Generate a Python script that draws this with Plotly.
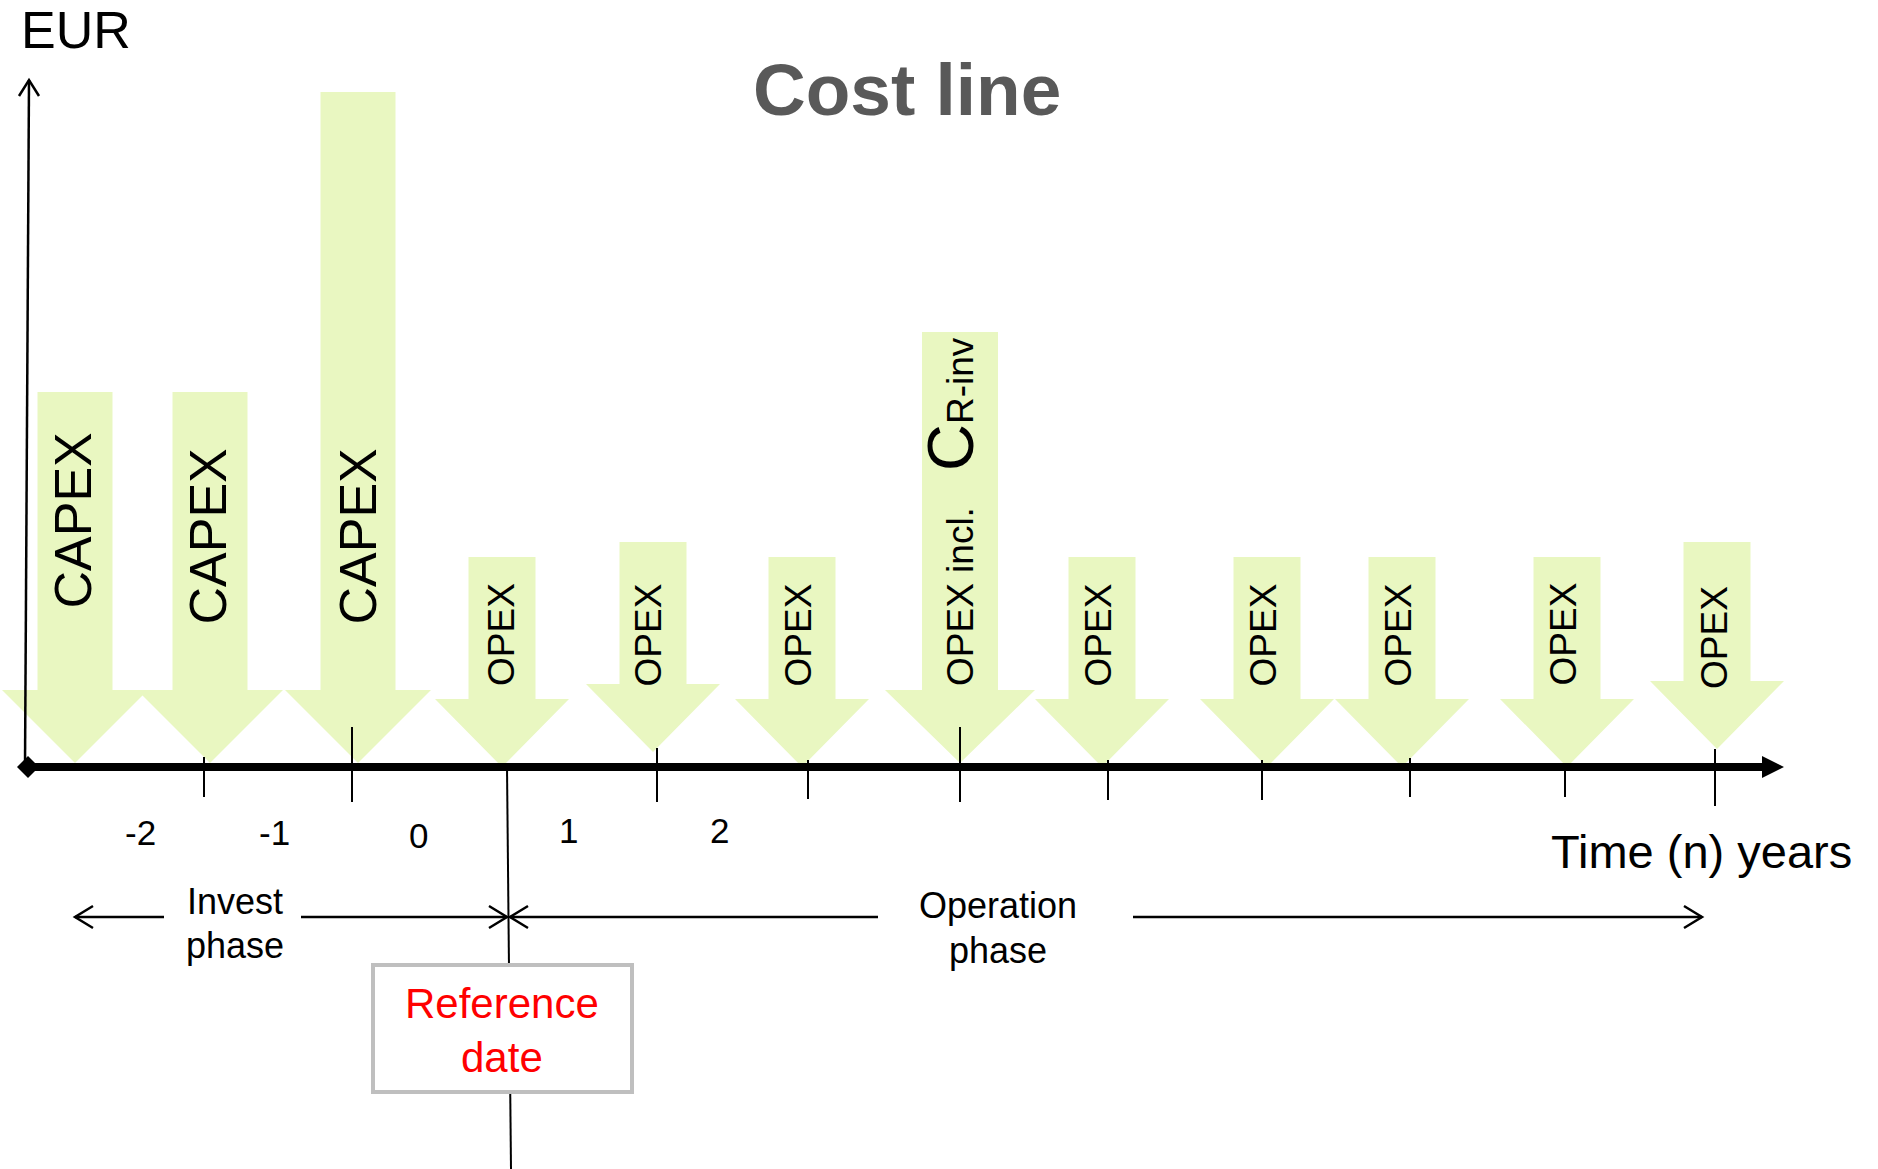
import plotly.graph_objects as go

# ---------------- data ----------------
W, H = 1878, 1169
BASE = 767                      # pixel row of the time axis -> value 0

arrow_labels = ["CAPEX", "CAPEX", "CAPEX", "OPEX", "OPEX", "OPEX",
                "OPEX incl.<span style='font-size:65px'>&nbsp; C</span>R-inv",
                "OPEX", "OPEX", "OPEX", "OPEX", "OPEX"]
arrow_kind = ["capex", "capex", "capex", "opex", "opex", "opex", "rinv",
              "opex", "opex", "opex", "opex", "opex"]
arrow_pos = [75, 210, 358, 502, 653, 802, 960, 1102, 1267, 1402, 1567, 1717]
arrow_value = [375, 375, 675, 210, 225, 210, 435, 210, 210, 210, 210, 225]
arrow_lift = [4, 4, 4, 0, 15, 0, 4, 0, 0, 0, 0, 18]
label_level = [246, 230, 230, 132, 132, 132, 255, 132, 132, 132, 133, 129]
label_pos = [72.5, 207.5, 357.5, 501, 647.5, 797.5, 950, 1097.5, 1262.5, 1397.5, 1562.5, 1714]

tick_pos = [204, 352, 657, 808, 960, 1108, 1262, 1410, 1565, 1715]
tick_up = [10, 40, 19, 7, 40, 7, 7, 9, 0, 18]
tick_down = [30, 35, 35, 32, 35, 33, 33, 30, 30, 39]

period_labels = ["-2", "-1", "0", "1", "2"]
period_pos = [140, 274, 418, 568, 719]
period_level = [-65, -65, -68, -63, -63]

ref_date_pos = 507

# ---------------- styles ----------------
FONT = "Liberation Sans, Arial, sans-serif"
GREEN = "#E9F7C1"
kind_style = {
    "capex": dict(sw=37.5, hw=73, hh=73, size=52),
    "opex": dict(sw=33.5, hw=67, hh=68, size=37),
    "rinv": dict(sw=38, hw=75, hh=73, size=37),
}

def v(ypx):
    return BASE - ypx

fig = go.Figure()

# arrows
for lab, kind, cx, top, lift in zip(arrow_labels, arrow_kind, arrow_pos, arrow_value, arrow_lift):
    s = kind_style[kind]
    ht = lift + s["hh"]
    xs = [cx - s["sw"], cx + s["sw"], cx + s["sw"], cx + s["hw"], cx, cx - s["hw"],
          cx - s["sw"], cx - s["sw"]]
    ys = [top, top, ht, ht, lift, ht, ht, top]
    fig.add_trace(go.Scatter(x=xs, y=ys, mode="lines", fill="toself",
                             fillcolor=GREEN, line=dict(width=0, color=GREEN),
                             hoverinfo="skip", showlegend=False))

shapes = []
def line(x0, y0, x1, y1, w=2.5, color="black"):
    shapes.append(dict(type="line", xref="x", yref="y", x0=x0, y0=y0, x1=x1, y1=y1,
                       line=dict(color=color, width=w), layer="above"))

def path(d, fill=None, w=2.5):
    shapes.append(dict(type="path", xref="x", yref="y", path=d,
                       fillcolor=fill if fill else "rgba(0,0,0,0)",
                       line=dict(color="black", width=0 if fill else w), layer="above"))

# vertical EUR axis
ytop = v(80)
line(25, 0, 29, ytop)
path(f"M 19 {ytop-16} L 29 {ytop} L 39 {ytop-16}")

# time axis
line(29, 0, 1763, 0, w=8)
path("M 1762 11 L 1784 0 L 1762 -11 Z", fill="black")
path("M 17 0 L 28 11 L 39 0 L 28 -11 Z", fill="black")

# ticks
for tx, up, dn in zip(tick_pos, tick_up, tick_down):
    line(tx, up, tx, -dn, w=2)

# reference-date line
line(ref_date_pos, 0, ref_date_pos + 4, v(H), w=2)

# phase arrows
py = v(917)
line(75, py, 164, py)
path(f"M 93 {py+11} L 75 {py} L 93 {py-11}")
line(301, py, ref_date_pos, py)
path(f"M {ref_date_pos-18} {py+11} L {ref_date_pos} {py} L {ref_date_pos-18} {py-11}")
line(ref_date_pos + 3, py, 878, py)
path(f"M {ref_date_pos+21} {py+11} L {ref_date_pos+3} {py} L {ref_date_pos+21} {py-11}")
line(1133, py, 1702, py)
path(f"M 1684 {py+11} L 1702 {py} L 1684 {py-11}")

# reference box
shapes.append(dict(type="rect", xref="x", yref="y", x0=373, x1=632, y0=v(965), y1=v(1092),
                   fillcolor="white", line=dict(color="#BFBFBF", width=4), layer="above"))

annotations = []
def text(x, y, t, size, color="black", angle=0, bold=False):
    annotations.append(dict(x=x, y=y, xref="x", yref="y", text=t, showarrow=False,
                            xanchor="center", yanchor="middle", textangle=angle,
                            font=dict(family=FONT, size=size, color=color,
                                      weight="bold" if bold else "normal")))

for lab, kind, lx, ly in zip(arrow_labels, arrow_kind, label_pos, label_level):
    text(lx, ly, lab, kind_style[kind]["size"], angle=-90)

for lab, px, lv in zip(period_labels, period_pos, period_level):
    text(px, lv, lab, 35)

text(907, v(89), "Cost line", 73, color="#595959", bold=True)
text(76, v(30), "EUR", 52)
text(1701, v(851), "Time (n) years", 47)
text(235, v(901), "Invest", 36)
text(235, v(945), "phase", 36)
text(998, v(905), "Operation", 36)
text(998, v(950), "phase", 36)
text(502, v(1003), "Reference", 42, color="#FF0000")
text(502, v(1057), "date", 42, color="#FF0000")

fig.update_layout(
    width=W, height=H, margin=dict(l=0, r=0, t=0, b=0),
    paper_bgcolor="white", plot_bgcolor="white",
    xaxis=dict(range=[0, W], visible=False, fixedrange=True),
    yaxis=dict(range=[v(H), v(0)], visible=False, fixedrange=True),
    shapes=shapes, annotations=annotations, showlegend=False,
)

fig.write_html("out.html", post_script="document.body.style.margin='0';",
               config={"displayModeBar": False})
